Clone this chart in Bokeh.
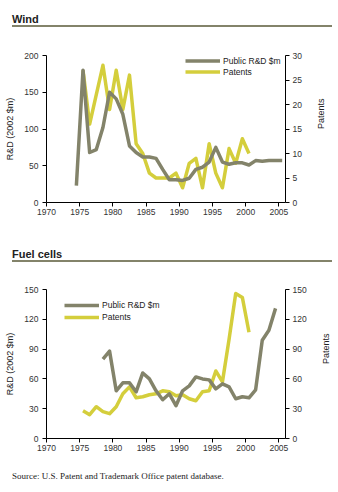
import math
from bokeh.plotting import figure
from bokeh.models import Range1d, LinearAxis, Legend, LegendItem, Div, FixedTicker
from bokeh.layouts import column
from bokeh.embed import file_html
from bokeh.resources import INLINE

# ---------------- data ----------------
x_ticks = [1970, 1975, 1980, 1985, 1990, 1995, 2000, 2005]

wind_rd_years = list(range(1974, 2006))
wind_rd = [23, 180, 68, 72, 102, 150, 141, 120, 77, 68, 62, 62, 60, 45, 31, 31,
           30, 33, 45, 48, 55, 75, 55, 52, 54, 54, 51, 57, 56, 57, 57, 57]
wind_pat_years = list(range(1975, 2001))
wind_pat = [27, 16, 22, 28, 19, 27, 19, 26, 12, 10, 6, 5, 5, 5, 6, 3,
            8, 9, 3, 12, 6, 3, 11, 8, 13, 10]

fuel_rd_years = list(range(1978, 2005))
fuel_rd = [80, 88, 48, 56, 56, 47, 66, 60, 48, 39, 45, 33, 48, 53, 62, 60,
           59, 50, 55, 52, 40, 42, 41, 49, 99, 109, 131]
fuel_pat_years = list(range(1975, 2001))
fuel_pat = [28, 24, 32, 27, 25, 32, 45, 52, 41, 42, 44, 45, 48, 47, 43, 44,
            40, 38, 47, 48, 68, 57, 100, 146, 142, 107]

wind_left_ticks = [0, 50, 100, 150, 200]
wind_right_ticks = [0, 5, 10, 15, 20, 25, 30]
fuel_ticks = [0, 30, 60, 90, 120, 150]

GRAY = "#83836a"
YELLOW = "#d4ce3c"
FONT = "Liberation Sans"
MID = 0.5  # values plotted at mid-year


def style_axis(ax, standoff, label_standoff=6):
    ax.axis_line_color = "black"
    ax.major_tick_line_color = "black"
    ax.major_tick_out = 4
    ax.major_tick_in = 0
    ax.minor_tick_line_color = None
    ax.major_label_text_font = FONT
    ax.major_label_text_font_size = "8.5px"
    ax.major_label_text_color = "#333333"
    ax.major_label_standoff = standoff
    ax.axis_label_text_font = FONT
    ax.axis_label_text_font_size = "9px"
    ax.axis_label_text_font_style = "normal"
    ax.axis_label_text_color = "#222222"
    ax.axis_label_standoff = label_standoff


def make_chart(rd_years, rd, pat_years, pat, left_max, left_ticks, right_max,
               right_ticks, top_border, bottom_border, leg_loc, leg_h):
    p = figure(width=338, height=200, output_backend="svg", toolbar_location=None,
               x_range=Range1d(1970, 2006), y_range=Range1d(0, left_max),
               min_border_left=46, min_border_right=38,
               min_border_top=top_border, min_border_bottom=bottom_border,
               margin=0)
    p.extra_y_ranges = {"pat": Range1d(0, right_max)}
    p.outline_line_color = None
    p.xgrid.visible = False
    p.ygrid.visible = False
    p.background_fill_color = "white"
    p.border_fill_color = "white"

    p.xaxis.ticker = FixedTicker(ticks=x_ticks)
    p.yaxis.ticker = FixedTicker(ticks=left_ticks)
    p.yaxis.axis_label = "R&D (2002 $m)"
    style_axis(p.xaxis[0], 2)
    style_axis(p.yaxis[0], 4)

    ax_r = LinearAxis(y_range_name="pat", axis_label="Patents",
                      ticker=FixedTicker(ticks=right_ticks))
    style_axis(ax_r, 3, 16)
    ax_r.axis_label_orientation = math.pi / 2
    p.add_layout(ax_r, "right")

    r_pat = p.line([y + MID for y in pat_years], pat, y_range_name="pat",
                   line_color=YELLOW, line_width=3.5, line_join="round")
    r_rd = p.line([y + MID for y in rd_years], rd,
                  line_color=GRAY, line_width=3.5, line_join="round")

    leg = Legend(items=[LegendItem(label="Public R&D $m", renderers=[r_rd]),
                        LegendItem(label="Patents", renderers=[r_pat])],
                 location=leg_loc, glyph_width=35, glyph_height=leg_h,
                 label_height=leg_h, spacing=0, padding=0, margin=0,
                 label_standoff=3, label_text_font=FONT,
                 label_text_font_size="8.5px", label_text_color="#222222",
                 background_fill_alpha=0, border_line_alpha=0)
    p.add_layout(leg)
    return p


def title_div(txt, height, pad):
    html = ('<div style="margin-left:12px;width:320px;padding-top:%dpx;'
            'font-family:\'Liberation Sans\';font-weight:bold;font-size:11px;'
            'line-height:12px;color:#222;border-bottom:2px solid %s;">%s</div>'
            % (pad, GRAY, txt))
    return Div(text=html, width=338, height=height, margin=0)


d1 = title_div("Wind", 30, 13)
p1 = make_chart(wind_rd_years, wind_rd, wind_pat_years, wind_pat, 200,
                wind_left_ticks, 30, wind_right_ticks, 25, 28, (139, 125), 11)
d2 = title_div("Fuel cells", 32, 18)
p2 = make_chart(fuel_rd_years, fuel_rd, fuel_pat_years, fuel_pat, 150,
                fuel_ticks, 150, fuel_ticks, 27, 24, (18, 115), 12)
d3 = Div(text=('<div style="margin-left:12px;padding-top:9px;'
               'font-family:\'Liberation Serif\';font-size:9px;line-height:11px;'
               'color:#222;">Source: U.S. Patent and Trademark Office patent database.</div>'),
         width=338, height=30, margin=0)

layout = column(d1, p1, d2, p2, d3, spacing=0, margin=0)
open("out.html", "w").write(file_html(layout, INLINE))
